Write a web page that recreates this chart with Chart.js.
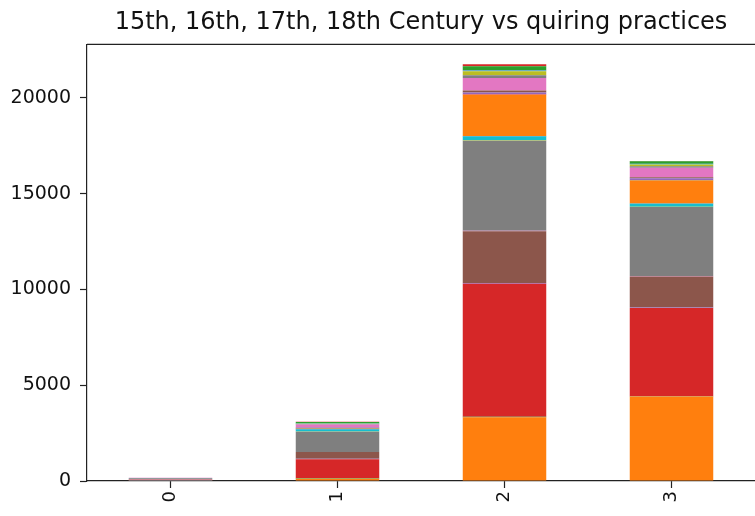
<!DOCTYPE html>
<html>
<head>
<meta charset="utf-8">
<script src="https://cdn.jsdelivr.net/npm/chart.js@4/dist/chart.umd.min.js"></script>
<style>
  html, body { margin: 0; padding: 0; background: #fff; }
  canvas { display: block; }
</style>
</head>
<body>
<canvas id="chart" width="755" height="516"></canvas>
<script>
const categories = ['0', '1', '2', '3'];
const yTicks = [0, 5000, 10000, 15000, 20000];

// stacked segment values for each bar, bottom to top (one per column)
const bar0 = [5, 20, 5, 30, 5, 15, 5, 60, 5, 5, 0, 5, 0, 0, 0, 0, 5, 0, 0, 0, 0, 0, 0, 0];
const bar1 = [20, 100, 20, 1000, 20, 350, 10, 1050, 20, 100, 20, 20, 10, 10, 40, 10, 150, 20, 20, 10, 10, 10, 60, 10];
const bar2 = [30, 3300, 20, 6950, 40, 2700, 30, 4700, 20, 200, 20, 2150, 10, 20, 100, 100, 650, 150, 200, 30, 20, 20, 200, 100];
const bar3 = [30, 4380, 20, 4600, 30, 1620, 20, 3600, 20, 150, 20, 1200, 10, 10, 100, 50, 500, 70, 100, 20, 10, 10, 120, 20];

const tab10 = ['#1f77b4', '#ff7f0e', '#2ca02c', '#d62728', '#9467bd',
               '#8c564b', '#e377c2', '#7f7f7f', '#bcbd22', '#17becf'];

const datasets = bar0.map((v, i) => ({
  label: 'column ' + (i + 1),
  data: [bar0[i], bar1[i], bar2[i], bar3[i]],
  backgroundColor: tab10[i % 10],
  borderWidth: 0,
  barPercentage: 0.5,
  categoryPercentage: 1.0
}));

const textColor = '#111';
const spineColor = '#222';

// top spine (matplotlib box)
const frame = {
  id: 'frame',
  afterDraw(chart) {
    const a = chart.chartArea, ctx = chart.ctx;
    ctx.save();
    ctx.strokeStyle = spineColor;
    ctx.lineWidth = 1.2;
    ctx.beginPath();
    ctx.moveTo(a.left, a.top);
    ctx.lineTo(a.right + 2, a.top);
    ctx.stroke();
    ctx.restore();
  }
};

new Chart(document.getElementById('chart'), {
  type: 'bar',
  data: { labels: categories, datasets },
  options: {
    responsive: false,
    animation: false,
    layout: { padding: { left: 0, right: 0, top: 0, bottom: 0 } },
    plugins: {
      legend: { display: false },
      tooltip: { enabled: false },
      title: {
        display: true,
        text: '15th, 16th, 17th, 18th Century vs quiring practices',
        color: textColor,
        fullSize: false,
        font: { family: 'DejaVu Sans', size: 24, weight: 'normal' },
        padding: { top: 8.5, bottom: 7 }
      }
    },
    scales: {
      x: {
        stacked: true,
        offset: true,
        grid: { display: true, offset: false, drawOnChartArea: false, tickLength: 7, color: spineColor, tickWidth: 1.2 },
        border: { display: true, color: spineColor, width: 1.2 },
        ticks: {
          color: textColor,
          minRotation: 90,
          maxRotation: 90,
          padding: 3,
          font: { family: 'DejaVu Sans', size: 18 }
        },
        afterFit: axis => { axis.height = 35; }
      },
      y: {
        stacked: true,
        min: 0,
        max: 22800,
        afterBuildTicks: axis => { axis.ticks = yTicks.map(v => ({ value: v })); },
        grid: { display: true, drawOnChartArea: false, tickLength: 7, color: spineColor, tickWidth: 1.2 },
        border: { display: true, color: spineColor, width: 1.2 },
        ticks: {
          color: textColor,
          padding: 9,
          font: { family: 'DejaVu Sans', size: 19 },
          callback: v => String(v)
        },
        afterFit: axis => { axis.width = 87; }
      }
    }
  },
  plugins: [frame]
});
</script>
</body>
</html>
